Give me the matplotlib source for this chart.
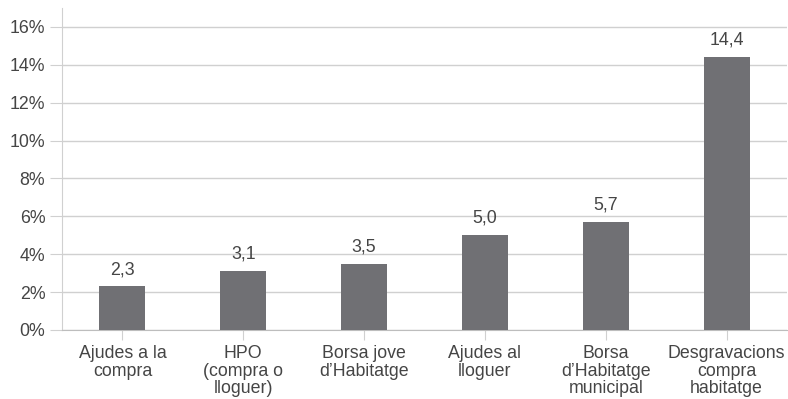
import numpy as np
import matplotlib.pyplot as plt

categories = ["Ajudes a la\ncompra", "HPO\n(compra o\nlloguer)", "Borsa jove\nd\u2019Habitatge",
              "Ajudes al\nlloguer", "Borsa\nd\u2019Habitatge\nmunicipal", "Desgravacions\ncompra\nhabitatge"]
values = [2.3, 3.1, 3.5, 5.0, 5.7, 14.4]
y_ticks = [0, 2, 4, 6, 8, 10, 12, 14, 16]

plt.rcParams['font.family'] = ['Liberation Sans', 'DejaVu Sans']
text_color = '#454545'
grid_color = '#d0d0d0'
fs = 12.8

fig = plt.figure(figsize=(7.88, 3.99), dpi=100)
ax = fig.add_axes([62 / 788, 69 / 399, (787 - 62) / 788, (330 - 8) / 399])

x = np.arange(len(categories))
ax.bar(x, values, width=0.38, color='#707074', zorder=3)

for xi, v in zip(x, values):
    ax.annotate(f"{v:.1f}".replace('.', ','), (xi, v), xytext=(0, 6), textcoords='offset points',
                ha='center', va='bottom', fontsize=fs, color=text_color)

ax.set_xlim(-0.5, len(categories) - 0.5)
ax.set_ylim(0, 17)
ax.set_yticks(y_ticks)
ax.set_yticklabels([f"{t}%" for t in y_ticks], fontsize=fs, color=text_color)
ax.set_xticks(x)
ax.set_xticklabels(categories, fontsize=fs, color=text_color, linespacing=1.04)

ax.yaxis.grid(True, color=grid_color, linewidth=1)
ax.set_axisbelow(True)
for side in ['top', 'right']:
    ax.spines[side].set_visible(False)
ax.spines['left'].set_color(grid_color)
ax.spines['bottom'].set_color('#bdbdbd')
ax.tick_params(axis='y', length=9, color=grid_color, pad=3)
ax.tick_params(axis='x', length=7, color=grid_color, pad=4)

fig.savefig('out.png', dpi=100)
